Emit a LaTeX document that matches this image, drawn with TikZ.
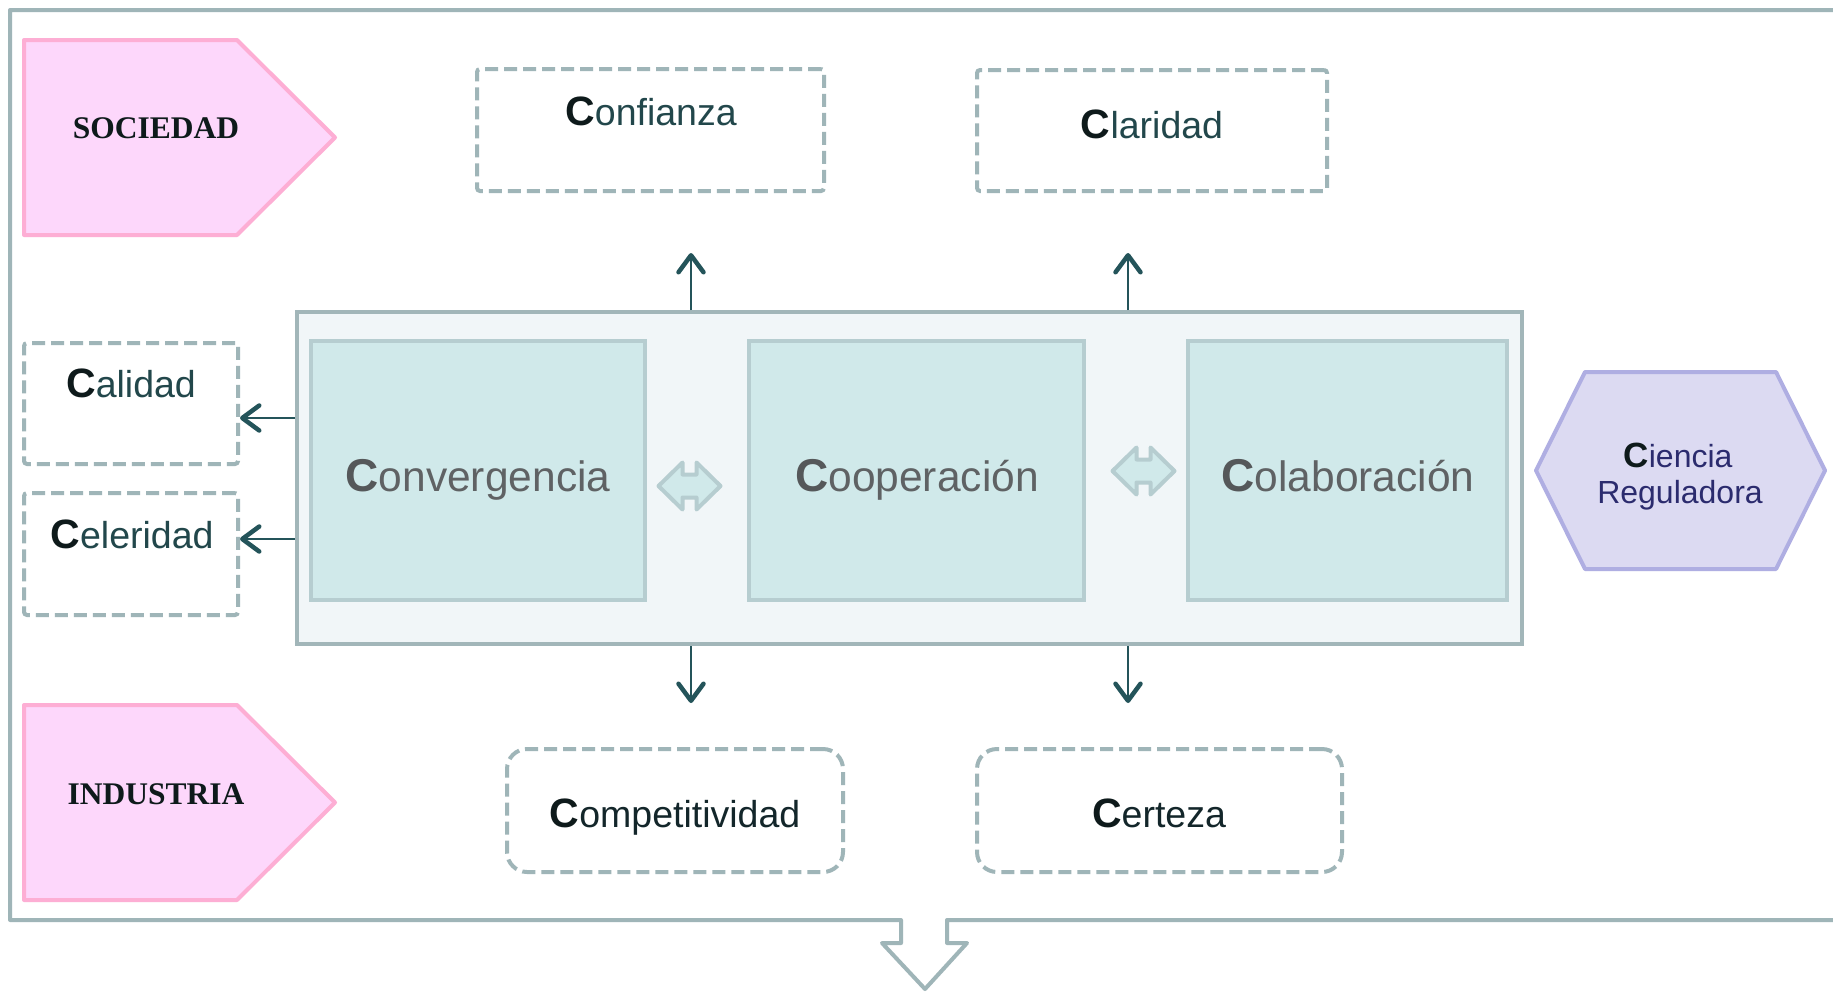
\documentclass[tikz,border=0pt]{standalone}
\usepackage{fontspec}
\setmainfont{Liberation Sans}
\newfontfamily\capsfont{Liberation Serif}
\usetikzlibrary{arrows.meta}
\definecolor{frameC}{HTML}{9FB5B8}
\definecolor{bigFill}{HTML}{F1F6F8}
\definecolor{bigDraw}{HTML}{A2B6B9}
\definecolor{innFill}{HTML}{D0E9EA}
\definecolor{innDraw}{HTML}{B6CDD0}
\definecolor{pinkFill}{HTML}{FDD7FB}
\definecolor{pinkDraw}{HTML}{FDAED4}
\definecolor{hexFill}{HTML}{DCDAF2}
\definecolor{hexDraw}{HTML}{AFAEE2}
\definecolor{arrowC}{HTML}{24545A}
\definecolor{cDark}{HTML}{0E1A1B}
\definecolor{tealText}{HTML}{22474B}
\definecolor{darkText}{HTML}{13262A}
\definecolor{grayC}{HTML}{55585A}
\definecolor{grayText}{HTML}{5F6264}
\definecolor{navyText}{HTML}{2B2B6E}
\newcommand\CapSmall{{\fontsize{41}{41}\selectfont\bfseries\color{cDark}C}}
\newcommand\CapBig{{\fontsize{46}{46}\selectfont\bfseries\color{grayC}C}}
\newcommand\CapHex{{\fontsize{35}{35}\selectfont\bfseries\color{cDark}C}}
\begin{document}
\begin{tikzpicture}[x=1pt,y=-1pt,
  framestyle/.style={draw=frameC,line width=4pt,line join=round},
  dbox/.style={draw=frameC,line width=4pt,dash pattern=on 13pt off 6pt,rounded corners=3pt,inner sep=0pt},
  rbox/.style={dbox,rounded corners=20pt},
  bigbox/.style={draw=bigDraw,fill=bigFill,line width=4pt,inner sep=0pt},
  innbox/.style={draw=innDraw,fill=innFill,line width=4pt,inner sep=0pt},
  dblarrow/.style={draw=innDraw,fill=innFill,line width=4pt,line join=round},
  pent/.style={draw=pinkDraw,fill=pinkFill,line width=4pt,line join=round},
  hexa/.style={draw=hexDraw,fill=hexFill,line width=4pt,line join=round},
  lbl/.style={inner sep=0pt,anchor=base,font=\fontsize{37.5}{40}\selectfont},
  inlbl/.style={inner sep=0pt,anchor=base,font=\fontsize{42.5}{45}\selectfont,text=grayText},
  hexlbl/.style={inner sep=0pt,anchor=base,font=\fontsize{32}{36}\selectfont,text=navyText},
  sectlbl/.style={inner sep=0pt,anchor=base,font=\capsfont\bfseries\fontsize{31.5}{34}\selectfont,text=cDark},
  conn/.style={draw=arrowC,line width=2.5pt,-{Straight Barb[length=17pt,width=25pt,line width=4.5pt,round]}}
]
\useasboundingbox (0,0) rectangle (1833,993);
\clip (0,0) rectangle (1833,993);
\fill[white] (0,0) rectangle (1833,993);

% outer frame with bottom arrow
\draw[framestyle] (1850,10) -- (10,10) -- (10,920) -- (901,920) -- (901,943) -- (882,943)
  -- (925,989) -- (967,943) -- (947,943) -- (947,920) -- (1850,920);

% SOCIEDAD / INDUSTRIA
\draw[pent] (24,40) -- (237,40) -- (335,137.5) -- (237,235) -- (24,235) -- cycle;
\node[sectlbl] (soc) at (156,138) {SOCIEDAD};
\draw[pent] (24,705) -- (237,705) -- (335,802.5) -- (237,900) -- (24,900) -- cycle;
\node[sectlbl] (ind) at (156,804) {INDUSTRIA};

% dashed boxes
\node[dbox,minimum width=347pt,minimum height=122pt] (confbox) at (650.5,130) {};
\node[lbl,text=tealText] (conf) at (651,125) {\CapSmall onfianza};
\node[dbox,minimum width=350pt,minimum height=121pt] (clarbox) at (1152,130.5) {};
\node[lbl,text=tealText] (clar) at (1152,138) {\CapSmall laridad};
\node[dbox,minimum width=214pt,minimum height=121pt] (calbox) at (131,403.5) {};
\node[lbl,text=tealText] (cal) at (131,397) {\CapSmall alidad};
\node[dbox,minimum width=214pt,minimum height=122pt] (celbox) at (131,554) {};
\node[lbl,text=tealText] (cel) at (132,548) {\CapSmall eleridad};
\node[rbox,minimum width=336pt,minimum height=123pt] (compbox) at (675,810.5) {};
\node[lbl,text=darkText] (comp) at (675,827) {\CapSmall ompetitividad};
\node[rbox,minimum width=365pt,minimum height=123pt] (certbox) at (1159.5,810.5) {};
\node[lbl,text=darkText] (cert) at (1159,827) {\CapSmall erteza};

% central block
\node[bigbox,minimum width=1225pt,minimum height=332pt] (big) at (909.5,478) {};
\node[innbox,minimum width=334pt,minimum height=259pt] (conv) at (478,470.5) {};
\node[inlbl] (convt) at (478,491) {\CapBig onvergencia};
\node[innbox,minimum width=335pt,minimum height=259pt] (coop) at (916.5,470.5) {};
\node[inlbl] (coopt) at (917,491) {\CapBig ooperación};
\node[innbox,minimum width=319pt,minimum height=259pt] (cola) at (1347.5,470.5) {};
\node[inlbl] (colat) at (1348,491) {\CapBig olaboración};

% double block arrows
\foreach \cx/\cy in {689.5/486, 1143.5/471}{
  \draw[dblarrow,shift={(\cx,\cy)}] (-31,0) -- (-7,-23.5) -- (-7,-11.5) -- (7,-11.5) -- (7,-23.5)
    -- (31,0) -- (7,23.5) -- (7,11.5) -- (-7,11.5) -- (-7,23.5) -- cycle;
}

% hexagon
\draw[hexa] (1536,470.5) -- (1585,372) -- (1776,372) -- (1825,470.5) -- (1776,569) -- (1585,569) -- cycle;
\node[hexlbl] (cien1) at (1678,467) {\CapHex iencia};
\node[hexlbl] (cien2) at (1680,503) {Reguladora};

% connectors
\coordinate (upA) at (691,253);
\coordinate (upB) at (1128,253);
\coordinate (dnA) at (691,703);
\coordinate (dnB) at (1128,703);
\coordinate (lfA) at (0,418);
\coordinate (lfB) at (0,539);
\draw[conn] (big.north -| upA) -- (upA);
\draw[conn] (big.north -| upB) -- (upB);
\draw[conn] (big.south -| dnA) -- (dnA);
\draw[conn] (big.south -| dnB) -- (dnB);
\draw[conn] (big.west |- lfA) -- (calbox.east |- lfA);
\draw[conn] (big.west |- lfB) -- (celbox.east |- lfB);
\end{tikzpicture}
\end{document}
